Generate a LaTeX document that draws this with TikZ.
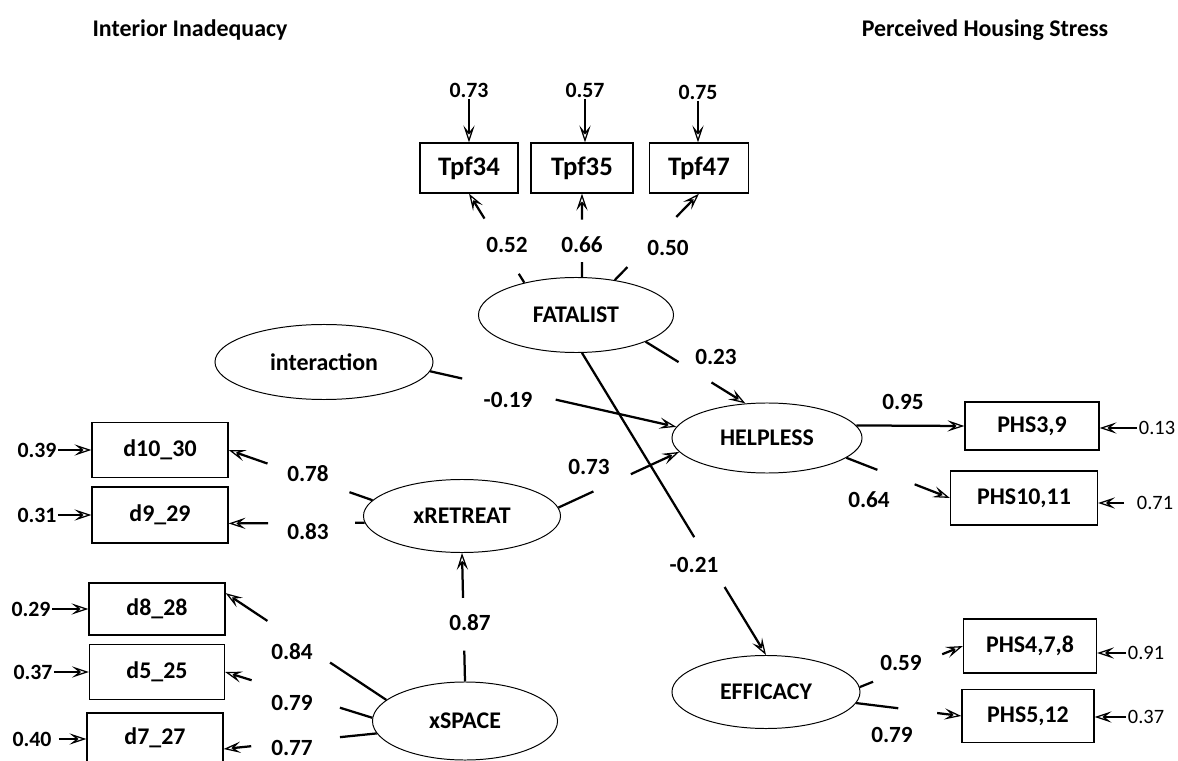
\documentclass[tikz,border=0pt]{standalone}
\usepackage{fontspec}
\setmainfont{Carlito}
\usetikzlibrary{arrows.meta,calc,shapes.geometric}

\tikzset{
  obs/.style={draw,line width=0.9pt,rectangle,inner sep=0pt,font=\bfseries\fontsize{17}{20}\selectfont},
  lat/.style={draw,line width=0.7pt,ellipse,inner sep=0pt,font=\bfseries\fontsize{17}{20}\selectfont},
  num/.style={font=\bfseries\fontsize{16.5}{19}\selectfont,inner sep=1pt},
  enum/.style={font=\bfseries\fontsize{15.5}{18}\selectfont,inner sep=1pt},
  res/.style={font=\fontsize{14.5}{17}\selectfont,inner sep=1pt},
  ttl/.style={font=\bfseries\fontsize{17}{20}\selectfont},
  lnk/.style={line width=1.6pt},
  tip/.style={-{Stealth[length=12pt,width=8pt,inset=5pt,open,line width=0.9pt]}},
  err/.style={line width=1.1pt,tip}
}
% loading path broken by its label: from, to, stub end, arrow start
\newcommand\gapped[4]{%
  \draw[lnk] (#1) -- ($(#1)!#3!(#2)$);
  \draw[lnk,tip] ($(#1)!#4!(#2)$) -- (#2);}

\begin{document}
\begin{tikzpicture}[x=0.025cm,y=-0.025cm]
\clip (0,0) rectangle (1178,761);
\node[ttl] (tleft) at (190,30) {Interior Inadequacy};
\node[ttl] (tright) at (985,30) {Perceived Housing Stress};

% latent variables
\node[lat,minimum width=4.875cm,minimum height=1.875cm] (fatal) at (576,315) {FATALIST};
\node[lat,minimum width=5.45cm,minimum height=1.875cm] (inter) at (324,362) {interaction};
\node[lat,minimum width=4.925cm,minimum height=1.825cm] (xret) at (462,516) {xRETREAT};
\node[lat,minimum width=4.625cm,minimum height=1.95cm] (xspace) at (465,721) {xSPACE};
\node[lat,minimum width=4.75cm,minimum height=1.75cm] (helpless) at (767,438) {HELPLESS};
\node[lat,minimum width=4.7cm,minimum height=1.825cm] (efficacy) at (766,692) {EFFICACY};

% indicators
\node[obs,font=\bfseries\fontsize{19}{22}\selectfont,minimum width=2.45cm,minimum height=1.25cm] (tpf34) at (469,168) {Tpf34};
\node[obs,font=\bfseries\fontsize{19}{22}\selectfont,minimum width=2.55cm,minimum height=1.25cm] (tpf35) at (582,168) {Tpf35};
\node[obs,font=\bfseries\fontsize{19}{22}\selectfont,minimum width=2.475cm,minimum height=1.25cm] (tpf47) at (699,168) {Tpf47};
\node[obs,minimum width=3.4cm,minimum height=1.375cm] (d10) at (160,450) {d10\_30};
\node[obs,minimum width=3.4cm,minimum height=1.4cm] (d9) at (160,515) {d9\_29};
\node[obs,minimum width=3.4cm,minimum height=1.3cm] (d8) at (157,609) {d8\_28};
\node[obs,minimum width=3.375cm,minimum height=1.375cm] (d5) at (157,672) {d5\_25};
\node[obs,minimum width=3.4cm,minimum height=1.5cm,text depth=10pt] (d7) at (155,743) {d7\_27};
\node[obs,minimum width=3.35cm,minimum height=1.2cm] (phs39) at (1032,426) {PHS3,9};
\node[obs,minimum width=3.675cm,minimum height=1.35cm] (phs1011) at (1024,498) {PHS10,11};
\node[obs,minimum width=3.325cm,minimum height=1.35cm] (phs478) at (1030,646) {PHS4,7,8};
\node[obs,minimum width=3.3cm,minimum height=1.325cm] (phs512) at (1028,716) {PHS5,12};

% error terms
\node[enum] (e34) at (469,90) {0.73};
\node[enum] (e35) at (585,90) {0.57};
\node[enum] (e47) at (698,92) {0.75};
\draw[err] (e34) -- (tpf34);
\draw[err] (e35) -- (e35 |- tpf35.north);
\draw[err] (e47) -- (e47 |- tpf47.north);
\node[enum] (e39) at (37,450) {0.39};
\node[enum] (e31) at (37,515) {0.31};
\node[enum] (e29) at (31,609) {0.29};
\node[enum] (e37) at (33,672) {0.37};
\node[enum] (e40) at (32,739) {0.40};
\draw[err] (e39) -- (d10);
\draw[err] (e31) -- (d9);
\draw[err] (e29) -- (d8);
\draw[err] (e37) -- (d5);
\draw[err,shorten <=4pt] (e40) -- (e40 -| d7.west);
\node[res] (r13) at (1157,428) {0.13};
\node[res] (r71) at (1155,503) {0.71};
\node[res] (r91) at (1146,653) {0.91};
\node[res] (r37) at (1146,717) {0.37};
\draw[err] (r13) -- (r13 -| phs39.east);
\draw[err,shorten <=8pt] (r71) -- (r71 -| phs1011.east);
\draw[err] (r91) -- (r91 -| phs478.east);
\draw[err] (r37) -- (r37 -| phs512.east);

% loadings and paths
\node[num] (l52) at (507,245) {0.52};
\node[num] (l66) at (582,245) {0.66};
\node[num] (l50) at (668,248) {0.50};
\gapped{fatal.148}{tpf34.south}{.1}{.72}
\gapped{fatal.81}{tpf35.south}{.18}{.69}
\gapped{fatal.42}{tpf47.south}{.15}{.73}
\node[num] (l23) at (716,357) {0.23};
\node[num] (l19) at (508,400) {-0.19};
\node[num] (l73) at (589,467) {0.73};
\node[num] (l21) at (694,565) {-0.21};
\gapped{fatal.-21}{helpless.122}{.33}{.66}
\gapped{inter.-5}{helpless.173}{.13}{.51}
\gapped{xret.5}{helpless.189}{.29}{.6}
\gapped{fatal.-81}{efficacy.north}{.61}{.775}
\node[num] (l95) at (903,402) {0.95};
\node[num] (l64) at (869,500) {0.64};
\node[num] (l59) at (901,663) {0.59};
\node[num] (l79b) at (892,735) {0.79};
\draw[lnk,tip] (helpless.8) -- (phs39.west);
\gapped{helpless.-14}{phs1011.west}{.3}{.66}
\gapped{efficacy.3}{phs478.west}{.13}{.8}
\gapped{efficacy.-7}{phs512.west}{.4}{.77}
\node[num] (l78) at (308,474) {0.78};
\node[num] (l83) at (308,532) {0.83};
\node[num] (l87) at (470,623) {0.87};
\node[num] (l84) at (292,652) {0.84};
\node[num] (l79) at (292,703) {0.79};
\node[num] (l77) at (292,748) {0.77};
\gapped{xret.170}{d10.east}{.16}{.73}
\gapped{xret.184}{d9.-7}{.07}{.71}
\gapped{xspace.north}{xret.south}{.24}{.65}
\gapped{xspace.165}{d8.13}{.35}{.74}
\gapped{xspace.178}{d5.east}{.22}{.82}
\gapped{xspace.188}{d7.-5}{.24}{.82}
\end{tikzpicture}
\end{document}
